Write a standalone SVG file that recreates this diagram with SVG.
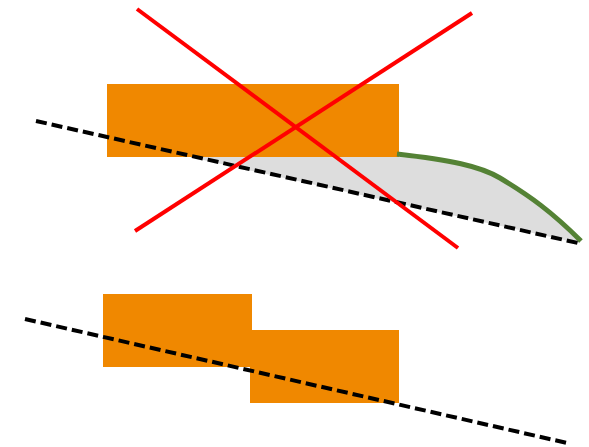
<svg xmlns="http://www.w3.org/2000/svg" width="589" height="447" viewBox="0 0 589 447">
<style>
.block{fill:#F08800;stroke:none}
.dash{stroke:#000;stroke-width:4;stroke-dasharray:11 5;fill:none}
.cross{stroke:#FF0000;stroke-width:4;fill:none}
</style>
<rect width="589" height="447" fill="#fff"/>
<g id="gray-area"><path d="M190,157 L399,157 C450,161 480,166 500,178 C530,196 550,210 580,242 L578,243 Z" fill="#DDDDDD"/></g>
<g id="top-block"><rect class="block" x="107" y="84" width="292" height="73"/></g>
<g id="green-curve"><path d="M397,154 C450,160 480,166 500,178 C530,196 552,212 581,241" fill="none" stroke="#548235" stroke-width="5"/></g>
<g id="bottom-block-1"><rect class="block" x="250" y="330" width="149" height="73"/></g>
<g id="bottom-block-2"><rect class="block" x="103" y="294" width="149" height="73"/></g>
<g id="connectors">
<line class="dash" x1="36" y1="121" x2="578" y2="243"/>
<line class="dash" x1="25" y1="319" x2="567" y2="443"/>
<line class="cross" x1="137" y1="9" x2="458" y2="248"/>
<line class="cross" x1="472" y1="13" x2="135" y2="231"/>
</g>
</svg>
